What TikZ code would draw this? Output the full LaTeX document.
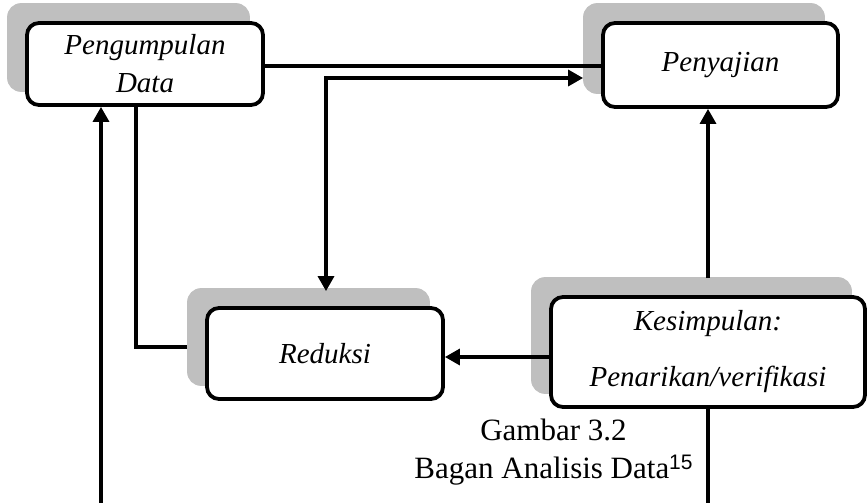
\documentclass[tikz,border=0pt]{standalone}
\usepackage{fontspec}
\setmainfont{Liberation Serif}
\newfontfamily\supfont{Liberation Sans}
\usetikzlibrary{arrows.meta}
\definecolor{shadowgray}{HTML}{BFBFBF}
\pgfdeclarelayer{shadowlayer}
\pgfdeclarelayer{linelayer}
\pgfsetlayers{shadowlayer,linelayer,main}
\begin{document}
\begin{tikzpicture}[x=1pt,y=-1pt,
  stagebox/.style={draw=black, line width=3.8pt, rounded corners=12pt, fill=white,
    align=center, inner sep=0pt, font=\fontsize{29}{38}\selectfont\itshape},
  shadowfill/.style={fill=shadowgray, rounded corners=14pt},
  conn/.style={line width=3.3pt, draw=black},
  tip/.style={-{Triangle[length=15pt,width=16pt]}},
  captext/.style={inner sep=0pt, anchor=base, font=\fontsize{31}{31}\selectfont}]
\useasboundingbox (0,0) rectangle (867,503);

\node[stagebox, minimum width=236pt, minimum height=82pt] (pd) at (145,64) {Pengumpulan\\Data};
\node[stagebox, minimum width=235pt, minimum height=84pt] (pj) at (720.5,65) {Penyajian};
\node[stagebox, minimum width=236pt, minimum height=91pt] (rd) at (325,353.5) {Reduksi};
\node[stagebox, minimum width=314pt, minimum height=110pt, font=\fontsize{29}{56}\selectfont\itshape] (ks) at (708,352) {Kesimpulan:\\Penarikan/verifikasi};

\begin{pgfonlayer}{shadowlayer}
\foreach \n in {pd,pj,rd,ks}
  \fill[shadowfill] ([shift={(-18,-18)}]\n.north west) rectangle ([shift={(-15,-15)}]\n.south east);
\end{pgfonlayer}

\coordinate (j1) at (326,78);
\coordinate (pjs) at ([xshift=-18pt]pj.west);
\coordinate (rdtop) at ([yshift=15pt]rd.north -| j1);
\coordinate (rdl) at ([xshift=-18pt]rd.west);
\coordinate (b1) at (101,503);
\coordinate (b2) at (708,503);

\begin{pgfonlayer}{linelayer}
\draw[conn] (pd.east |- 0,66) -- (pj.west |- 0,66);
\draw[conn, {Triangle[length=15pt,width=16pt]}-{Triangle[length=15pt,width=16pt]}] (rdtop) -- (j1) -- (j1 -| pjs);
\draw[conn] (rdl |- 0,347) -| (pd.south -| 136,0);
\draw[conn, tip] (b1) -- (b1 |- pd.south);
\draw[conn, tip] ([yshift=17pt]ks.north) -- (ks.north |- pj.south);
\draw[conn, tip] (ks.west |- 0,357) -- (rd.east |- 0,357);
\draw[conn] (ks.south) -- (b2);
\end{pgfonlayer}

\node[captext] (cap1) at (553.5,440) {Gambar 3.2};
\node[captext] (cap2) at (553.5,478) {Bagan Analisis Data\raisebox{9pt}{\supfont\fontsize{21}{21}\selectfont 15}};
\end{tikzpicture}
\end{document}
